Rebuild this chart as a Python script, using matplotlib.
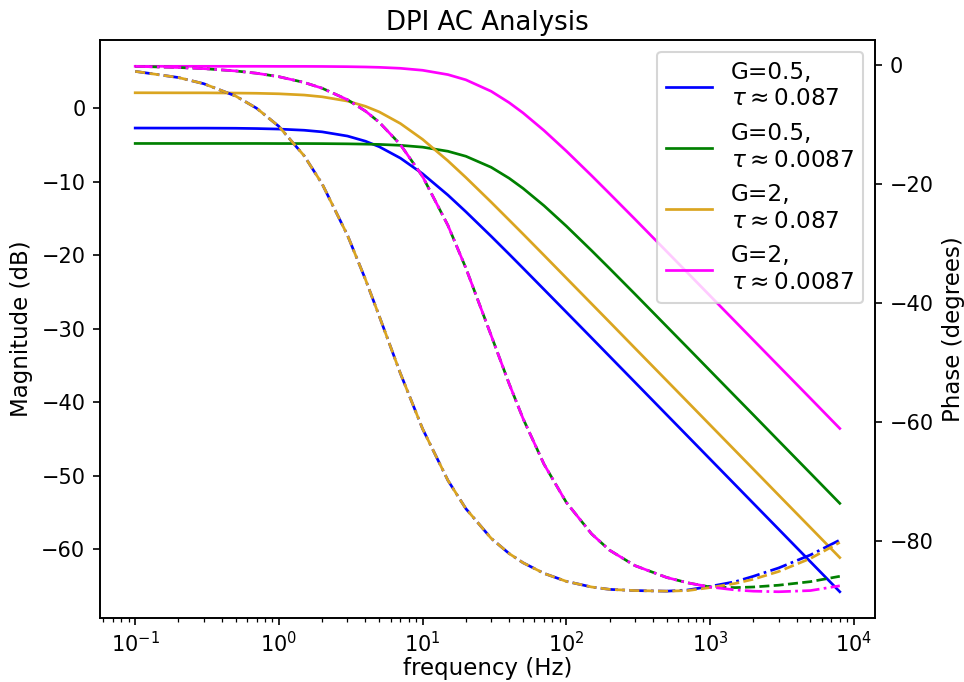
import matplotlib
matplotlib.use("Agg")
import matplotlib.pyplot as plt

# frequency grid (Hz) at which the curves were read
freq = [0.1, 0.2, 0.3, 0.5, 0.7, 1, 1.5, 2, 3, 4, 5, 7, 10, 15, 20, 30, 40, 50, 70,
        100, 150, 200, 300, 500, 700, 1000, 1500, 2000, 3000, 5000, 8000]

# magnitude (dB)
mag_g05_slow = [-2.70, -2.71, -2.71, -2.73, -2.77, -2.84, -3.00, -3.22, -3.79, -4.49, -5.25,
                -6.79, -8.92, -11.82, -14.09, -17.43, -19.86, -21.77, -24.67, -27.75, -31.26,
                -33.76, -37.28, -41.72, -44.64, -47.74, -51.26, -53.76, -57.28, -61.72, -65.80]
mag_g05_fast = [-4.80, -4.80, -4.80, -4.80, -4.80, -4.81, -4.81, -4.82, -4.85, -4.89, -4.93,
                -5.05, -5.30, -5.86, -6.54, -8.04, -9.53, -10.91, -13.27, -16.04, -19.38,
                -21.81, -25.28, -29.70, -32.61, -35.71, -39.23, -41.72, -45.25, -49.68, -53.77]
mag_g2_slow = [2.10, 2.09, 2.09, 2.06, 2.03, 1.96, 1.79, 1.55, 0.97, 0.26, -0.51, -2.08,
               -4.24, -7.16, -9.43, -12.78, -15.22, -17.12, -20.02, -23.11, -26.62, -29.11,
               -32.64, -37.07, -39.99, -43.09, -46.61, -49.11, -52.64, -57.07, -61.15]
mag_g2_fast = [5.70, 5.70, 5.70, 5.70, 5.70, 5.69, 5.69, 5.68, 5.65, 5.61, 5.56, 5.43, 5.16,
               4.57, 3.86, 2.30, 0.76, -0.64, -3.04, -5.83, -9.18, -11.62, -15.09, -19.51,
               -22.42, -25.52, -29.04, -31.54, -35.06, -39.49, -43.58]

# phase (degrees)
ph_g05_slow = [-1.04, -2.08, -3.12, -5.19, -7.25, -10.30, -15.26, -19.98, -28.61, -36.03,
               -42.27, -51.84, -61.19, -69.86, -74.62, -79.61, -82.17, -83.72, -85.51, -86.85,
               -87.80, -88.20, -88.40, -88.50, -88.30, -87.70, -86.90, -86.00, -84.60, -82.40,
               -79.90]
ph_g05_fast = [-0.19, -0.39, -0.58, -0.97, -1.36, -1.94, -2.91, -3.88, -5.81, -7.72, -9.62,
               -13.35, -18.73, -26.95, -34.14, -45.48, -53.59, -59.46, -67.15, -73.56, -78.87,
               -81.61, -84.20, -86.20, -87.10, -87.80, -87.90, -87.80, -87.50, -86.90, -86.00]
ph_g2_slow = [-1.04, -2.08, -3.12, -5.19, -7.25, -10.30, -15.26, -19.98, -28.61, -36.03,
              -42.27, -51.84, -61.19, -69.86, -74.62, -79.61, -82.17, -83.72, -85.51, -86.85,
              -87.80, -88.20, -88.40, -88.50, -88.40, -87.90, -87.20, -86.50, -85.20, -83.00,
              -80.30]
ph_g2_fast = [-0.19, -0.39, -0.58, -0.97, -1.36, -1.94, -2.91, -3.88, -5.81, -7.72, -9.62,
              -13.35, -18.73, -26.95, -34.14, -45.48, -53.59, -59.46, -67.15, -73.56, -78.87,
              -81.61, -84.20, -86.20, -87.10, -87.80, -88.30, -88.50, -88.60, -88.40, -87.60]

labels = ["G=0.5,\n$\\tau\\approx0.087$", "G=0.5,\n$\\tau\\approx0.0087$",
          "G=2,\n$\\tau\\approx0.087$", "G=2,\n$\\tau\\approx0.0087$"]
colors = ["blue", "green", "goldenrod", "magenta"]
phase_styles = ["-.", "--", "--", "-."]

mags = [mag_g05_slow, mag_g05_fast, mag_g2_slow, mag_g2_fast]
phases = [ph_g05_slow, ph_g05_fast, ph_g2_slow, ph_g2_fast]

plt.rcParams["font.size"] = 11
plt.rcParams["xtick.labelsize"] = 10
plt.rcParams["ytick.labelsize"] = 10
plt.rcParams["xtick.major.pad"] = 2.5

fig, ax = plt.subplots(figsize=(964 / 150, 682 / 150), dpi=150)
fig.subplots_adjust(left=0.1037, right=0.9077, bottom=0.0938, top=0.9413)
ax2 = ax.twinx()

for m, p, c, ls, lab in zip(mags, phases, colors, phase_styles, labels):
    ax.plot(freq, m, color=c, lw=1.3, label=lab)
    ax2.plot(freq, p, color=c, lw=1.3, linestyle=ls)

ax.set_xscale("log")
ax.set_xlabel("frequency (Hz)", labelpad=0.5)
ax.set_ylabel("Magnitude (dB)")
ax2.set_ylabel("Phase (degrees)")
ax.set_title("DPI AC Analysis", fontsize=12.5, pad=5)
ax.legend(loc="upper right", fontsize=11.1)

fig.savefig("out.png", dpi=150)
